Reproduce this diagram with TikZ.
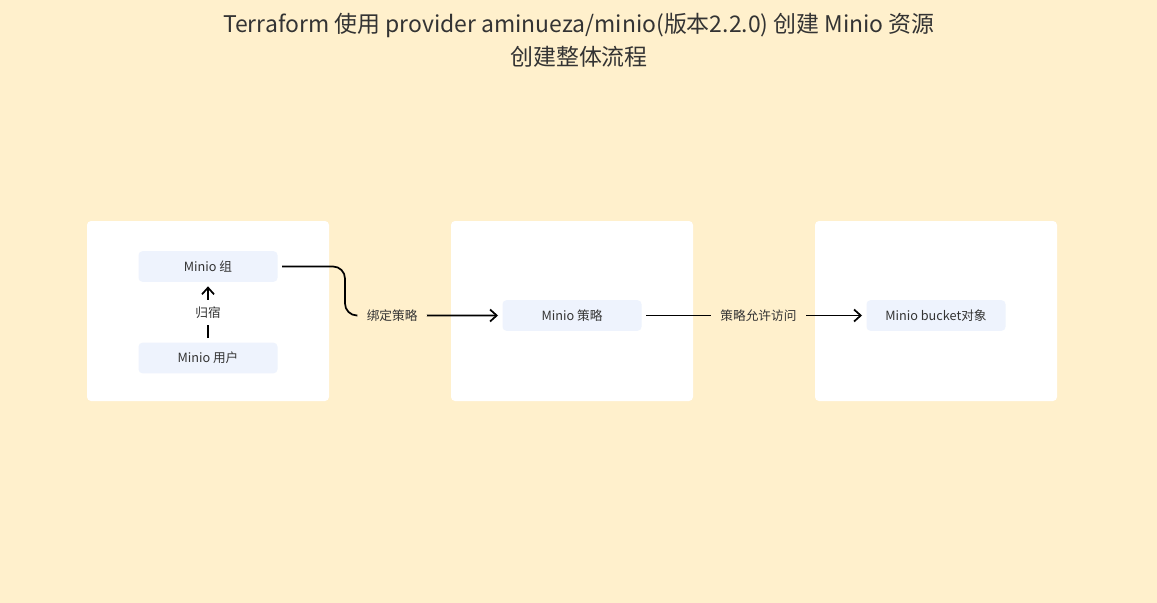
\documentclass[tikz,border=0pt]{standalone}
\usepackage{fontspec}
\setmainfont{Noto Sans CJK SC}
\usetikzlibrary{arrows.meta}

\definecolor{bgyellow}{RGB}{255,240,204}
\definecolor{itemblue}{RGB}{238,243,253}
\definecolor{txtgray}{RGB}{51,51,51}

\tikzset{every picture/.style={line width=0.75pt}}
\tikzset{
  panel/.style={draw=none, fill=white, rounded corners=3pt, minimum width=181.5pt, minimum height=135pt},
  item/.style={draw=none, fill=itemblue, rounded corners=3pt, minimum width=104.25pt, minimum height=23pt, text=txtgray, font=\fontsize{9.5}{11}\selectfont},
  conn/.style={line width=1.3pt, -{Straight Barb[length=5pt,width=9pt,line width=1.3pt]}, shorten >=3pt, shorten <=3pt},
  edgelabel/.style={fill=#1, text=txtgray, font=\fontsize{9.5}{11}\selectfont, inner xsep=7pt, inner ysep=5pt}
}

\begin{document}
\begin{tikzpicture}[x=0.75pt,y=0.75pt,yscale=-1,xscale=1]
\path[fill=bgyellow] (0,0) rectangle (1157,603);

% Text Node
\node[text=txtgray, align=center, font=\fontsize{17.2}{24.75}\selectfont] (title) at (579,40) {Terraform 使用 provider aminueza/minio(版本2.2.0) 创建 Minio 资源\\创建整体流程};

%Shape: Panels
\node[panel] (pan1) at (208,311) {};
\node[panel] (pan2) at (572,311) {};
\node[panel] (pan3) at (936,311) {};

%Shape: Items
\node[item] (grp) at (208,266.5) {Minio 组};
\node[item] (usr) at (208,358) {Minio 用户};
\node[item] (pol) at (572,315.5) {Minio 策略};
\node[item] (bkt) at (936,315.5) {Minio bucket对象};

\coordinate (bend) at (345,315.5);

%Straight Lines
\draw[conn] (usr) -- node[edgelabel=white] {归宿} (grp);
%Curve Lines
\draw[conn, rounded corners=9pt] (grp.east) -| (bend) -- node[pos=0.3, edgelabel=bgyellow] {绑定策略} (pol.west);
%Straight Lines
\draw[conn] (pol.east) -- node[pos=0.52, edgelabel=bgyellow] {策略允许访问} (bkt.west);

\end{tikzpicture}
\end{document}
